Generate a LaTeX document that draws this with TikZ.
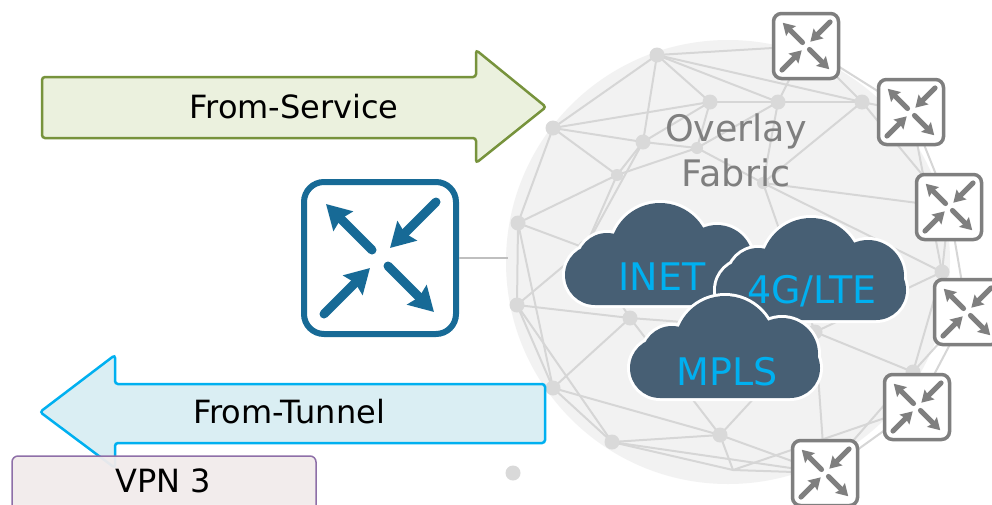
\documentclass[tikz,border=0pt]{standalone}
\usepackage{fontspec}
\setmainfont{DejaVu Sans}
\usetikzlibrary{arrows.meta}

\definecolor{svcfill}{HTML}{EBF1DE}
\definecolor{svcline}{HTML}{77933C}
\definecolor{tunfill}{HTML}{DAEEF3}
\definecolor{tunline}{HTML}{00B0F0}
\definecolor{vpnfill}{HTML}{F2ECEC}
\definecolor{vpnline}{HTML}{8E6FA8}
\definecolor{routerblue}{HTML}{176A96}
\definecolor{edgegray}{HTML}{7F7F7F}
\definecolor{spherefill}{HTML}{F2F2F2}
\definecolor{meshgray}{HTML}{D6D6D6}
\definecolor{dotgray}{HTML}{D9D9D9}
\definecolor{cloudfill}{HTML}{475F74}
\definecolor{cloudtextcol}{HTML}{00B0F0}

% four-arrow router glyph centred on a node
\newcommand{\routerglyph}[3]{%
  \begin{scope}[shift={(#1.center)}, scale=#2]
    \draw[#3] (-8,-8) -- (-54,-54);
    \draw[#3] (8,8) -- (54,54);
    \draw[#3] (56,-56) -- (10,-10);
    \draw[#3] (-56,56) -- (-10,10);
  \end{scope}}

% cloud body with a white rim, placed by its bottom-left corner
\newcommand{\cloudblob}[2]{%
  \begin{scope}[shift={(#1,#2)}]
    \path[cloudrim, rounded corners=30] (0,0) rectangle (190,-60);
    \path[cloudrim] (42,-42) circle[radius=30];
    \path[cloudrim] (95,-52) circle[radius=50];
    \path[cloudrim] (152,-44) circle[radius=36];
    \fill[cloudfill, rounded corners=30] (0,0) rectangle (190,-60);
    \fill[cloudfill] (42,-42) circle[radius=30];
    \fill[cloudfill] (95,-52) circle[radius=50];
    \fill[cloudfill] (152,-44) circle[radius=36];
  \end{scope}}

\begin{document}
\begin{tikzpicture}[x=1pt, y=-1pt,
  bigrouter/.style={draw=routerblue, line width=6pt, rounded corners=20pt,
    fill=white, minimum size=152pt, inner sep=0pt},
  edgerouter/.style={draw=edgegray, line width=3.5pt, rounded corners=8pt,
    fill=white, minimum size=65pt, inner sep=0pt},
  bigglyph/.style={routerblue, line width=9pt, line cap=round,
    -{Stealth[length=24pt, width=27pt, inset=3pt]}},
  smallglyph/.style={edgegray, line width=5pt, line cap=round,
    -{Stealth[length=11.5pt, width=13.5pt, inset=1.5pt]}},
  meshline/.style={meshgray, line width=2pt},
  meshdot/.style={dotgray},
  linkline/.style={draw=black!25, line width=2pt},
  cloudrim/.style={draw=white, fill=white, line width=6pt},
  cloudtext/.style={text=cloudtextcol, font=\fontsize{38}{44}\selectfont,
    inner sep=0pt},
  labeltext/.style={font=\fontsize{32}{38}\selectfont, inner sep=0pt},
  fabrictext/.style={text=edgegray, align=center,
    font=\fontsize{36.5}{45}\selectfont, inner sep=0pt}
]
\useasboundingbox (0,0) rectangle (992,504);
\fill[white] (0,0) rectangle (992,504);

% overlay sphere
\fill[spherefill] (728,262) circle[radius=222];

% mesh points
\coordinate (ma) at (657,55);
\coordinate (mb) at (553,128);
\coordinate (mc) at (710,102);
\coordinate (md) at (778,102);
\coordinate (me) at (862,102);
\coordinate (mf) at (643,142);
\coordinate (mg) at (697,148);
\coordinate (mh) at (617,175);
\coordinate (mi) at (518,223);
\coordinate (mj) at (763,183);
\coordinate (mk) at (585,248);
\coordinate (ml) at (517,305);
\coordinate (mm) at (630,318);
\coordinate (mn) at (553,388);
\coordinate (mo) at (612,442);
\coordinate (mp) at (720,435);
\coordinate (mq) at (733,470);
\coordinate (mr) at (815,332);
\coordinate (ms) at (913,372);
\coordinate (mt) at (942,272);
\coordinate (mx) at (513,473);
\coordinate (r1) at (806,46);
\coordinate (r2) at (911,112);
\coordinate (r3) at (949,207);
\coordinate (r4) at (967,312);
\coordinate (r5) at (917,407);
\coordinate (r6) at (825,473);

% mesh links
\foreach \u/\v in {ma/mb, ma/mc, ma/md, ma/mf, ma/r1, ma/me,
    mb/mf, mb/mh, mb/mi, mb/mc,
    mc/md, mc/mg, mc/mf,
    md/me, md/mj, md/mg, md/r1,
    me/r1, me/r2, me/mj, me/r3,
    mf/mh, mf/mg, mf/mk,
    mg/mj, mg/mh,
    mh/mi, mh/mk,
    mi/mk, mi/ml, mi/mn,
    mj/r3, mj/mr, mj/mt,
    mk/ml, mk/mm,
    ml/mm, ml/mn, ml/mo,
    mm/mn, mm/mp, mm/mr,
    mn/mo, mn/mp,
    mo/mq, mo/mp, mo/r6,
    mp/mq, mp/r6, mp/mr,
    mq/r6, mq/r5,
    mr/ms, mr/mt, mr/r6,
    ms/r5, ms/mt, ms/r4, ms/r6,
    mt/r3, mt/r4, mt/r2,
    r1/r2, r2/r3, r3/r4, r4/r5, r5/r6}
  \draw[meshline] (\u) -- (\v);

% mesh dots
\foreach \p in {ma, mb, mc, md, me, mf, mi, mk, ml, mm, mn, mo, mp, mr, ms, mt, mx}
  \fill[meshdot] (\p) circle[radius=7.5];
\foreach \p in {mg, mh, mj}
  \fill[meshdot] (\p) circle[radius=6];

% fabric label
\node[fabrictext] (fabric) at (736,150) {Overlay\\Fabric};

% transport clouds
\cloudblob{565}{305}
\node[cloudtext] (inet) at (662,277) {INET};
\cloudblob{716}{320}
\node[cloudtext] (lte) at (812,291) {4G/LTE};
\cloudblob{630}{398}
\node[cloudtext] (mpls) at (727,372) {MPLS};

% edge routers around the fabric
\node[edgerouter] (e1) at (r1) {};
\node[edgerouter] (e2) at (r2) {};
\node[edgerouter] (e3) at (r3) {};
\node[edgerouter] (e4) at (r4) {};
\node[edgerouter] (e5) at (r5) {};
\node[edgerouter] (e6) at (r6) {};
\foreach \n in {e1, e2, e3, e4, e5, e6}
  \routerglyph{\n}{0.43}{smallglyph};

% local router and its link into the fabric
\coordinate (fabricedge) at (508,258);
\node[bigrouter] (core) at (380,258) {};
\draw[linkline] (core.east) -- (fabricedge);
\routerglyph{core}{1}{bigglyph};

% traffic direction arrows
\draw[svcline, fill=svcfill, line width=2.5pt, rounded corners=3pt]
  (42,77) -- (476,77) -- (476,50) -- (546,107) -- (476,163)
  -- (476,138) -- (42,138) -- cycle;
\node[labeltext] (fromsvc) at (294,107) {From-Service};

\draw[tunline, fill=tunfill, line width=2.5pt, rounded corners=3pt]
  (545,384) -- (115,384) -- (115,355) -- (40,412) -- (115,468)
  -- (115,443) -- (545,443) -- cycle;
\node[labeltext] (fromtun) at (289,412) {From-Tunnel};

% VPN tag
\draw[vpnline, fill=vpnfill, fill opacity=0.95, line width=1.5pt,
  rounded corners=6pt] (12,456) rectangle (316,515);
\node[labeltext] (vpn) at (163,481) {VPN 3};
\end{tikzpicture}
\end{document}
